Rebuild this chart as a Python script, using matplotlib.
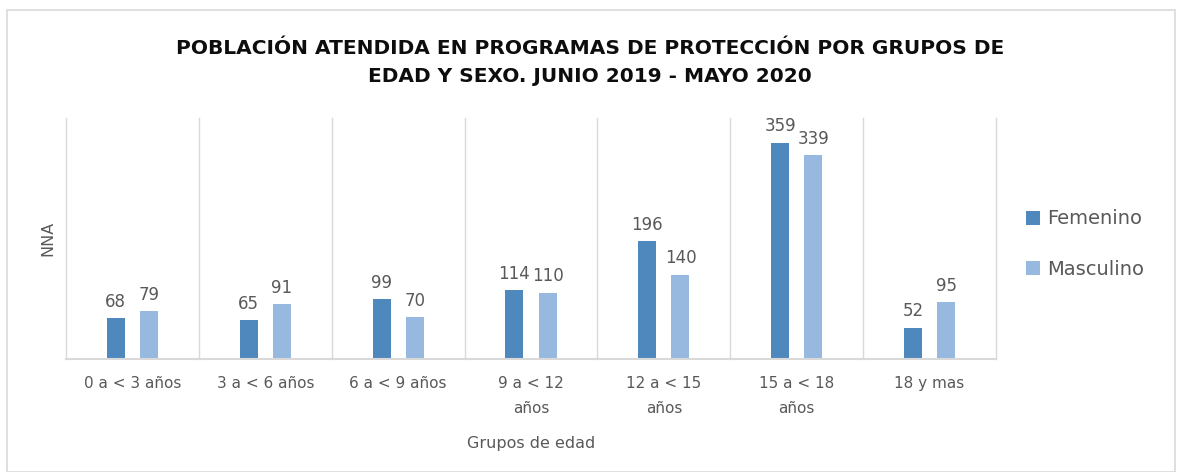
import numpy as np
import matplotlib.pyplot as plt
from matplotlib.patches import Rectangle

groups = ["0 a < 3 años", "3 a < 6 años", "6 a < 9 años", "9 a < 12\naños",
          "12 a < 15\naños", "15 a < 18\naños", "18 y mas"]
femenino = [68, 65, 99, 114, 196, 359, 52]
masculino = [79, 91, 70, 110, 140, 339, 95]

dark = "#4F88BD"
light = "#97B9E0"
gray = "#595959"

fig = plt.figure(figsize=(11.85, 4.72), dpi=100)
fig.patches.append(Rectangle((7 / 1185, 0), 1 - 17 / 1185, 1 - 10 / 472, transform=fig.transFigure,
                             fill=False, edgecolor="#d9d9d9", linewidth=1.2))
ax = fig.add_axes([66 / 1185, 1 - 359 / 472, 930 / 1185, 241 / 472])

x = np.arange(len(groups))
w = 0.135
b1 = ax.bar(x - 0.125, femenino, w, color=dark, label="Femenino")
b2 = ax.bar(x + 0.125, masculino, w, color=light, label="Masculino")
for bars, vals in ((b1, femenino), (b2, masculino)):
    for r, v in zip(bars, vals):
        ax.text(r.get_x() + r.get_width() / 2, v + 12, str(v), ha="center", va="bottom",
                fontsize=12, color=gray)

ax.set_xlim(-0.5, len(groups) - 0.5)
ax.set_ylim(0, 400)
for b in np.arange(-0.5, len(groups), 1.0):
    ax.axvline(b, color="#d9d9d9", linewidth=1, zorder=0, clip_on=False)
ax.set_yticks([])
ax.set_xticks(x)
ax.set_xticklabels(groups, fontsize=11, color=gray, linespacing=1.9)
ax.tick_params(axis="x", length=0, pad=12)
for s in ("top", "right", "left"):
    ax.spines[s].set_visible(False)
ax.spines["bottom"].set_color("#d9d9d9")
ax.spines["bottom"].set_linewidth(1.5)

ax.set_ylabel("NNA", fontsize=11.5, color=gray, labelpad=8)
ax.set_xlabel("Grupos de edad", fontsize=11.5, color=gray, labelpad=14)

fig.text(0.498, 1 - 48 / 472, "POBLACIÓN ATENDIDA EN PROGRAMAS DE PROTECCIÓN POR GRUPOS DE",
         ha="center", va="center", fontsize=14.5, fontweight="bold", color="#0d0d0d")
fig.text(0.498, 1 - 76 / 472, "EDAD Y SEXO. JUNIO 2019 - MAYO 2020",
         ha="center", va="center", fontsize=14.5, fontweight="bold", color="#0d0d0d")

fig.legend(handles=[b1, b2], loc="center left", bbox_to_anchor=(1008 / 1185, 1 - 244 / 472),
           frameon=False, fontsize=14, labelcolor=gray, handlelength=0.75, handleheight=0.75,
           handletextpad=0.35, labelspacing=1.6)

fig.savefig("out.png", dpi=100)
